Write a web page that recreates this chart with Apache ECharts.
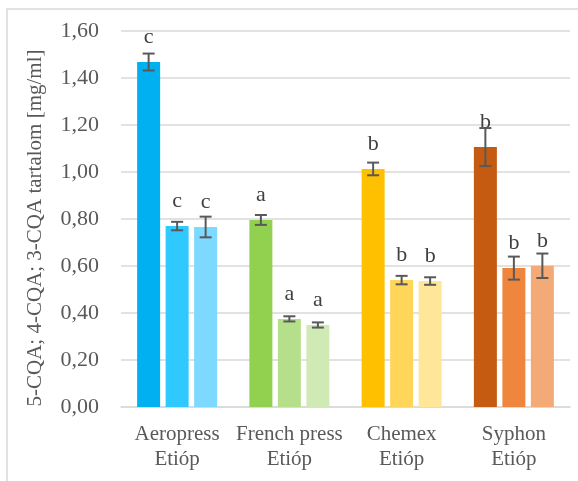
<!DOCTYPE html>
<html>
<head>
<meta charset="utf-8">
<script src="https://cdn.jsdelivr.net/npm/echarts@6/dist/echarts.min.js"></script>
<style>
  html, body { margin: 0; padding: 0; background: #fff; }
  #chart { width: 578px; height: 481px; }
</style>
</head>
<body>
<div id="chart"></div>
<script>
// data
var categories = ['Aeropress\nEtióp', 'French press\nEtióp', 'Chemex\nEtióp', 'Syphon\nEtióp'];
var seriesNames = ['5-CQA', '4-CQA', '3-CQA'];
var cqa5 = [1.468, 0.796, 1.013, 1.106];
var cqa4 = [0.770, 0.375, 0.540, 0.591];
var cqa3 = [0.766, 0.349, 0.536, 0.601];
var err5 = [0.036, 0.021, 0.027, 0.081];
var err4 = [0.018, 0.011, 0.018, 0.049];
var err3 = [0.044, 0.011, 0.016, 0.052];
var letters5 = ['c', 'a', 'b', 'b'];
var letters4 = ['c', 'a', 'b', 'b'];
var letters3 = ['c', 'a', 'b', 'b'];
// colours: one row per category, one column per series
var colors = [
  ['#00B0F0', '#2FC8FF', '#7DD9FF'],
  ['#92D050', '#B5DF8B', '#D0EAB6'],
  ['#FFC000', '#FFD659', '#FFE699'],
  ['#C55A11', '#F0853E', '#F4AA77']
];

var values = [cqa5, cqa4, cqa3];
var errors = [err5, err4, err3];
var letters = [letters5, letters4, letters3];

var font = '"Liberation Serif", "Times New Roman", serif';
var barWidth = 23;
var barGap = 5.5;

var chart = echarts.init(document.getElementById('chart'));

var series = [];
values.forEach(function (vals, s) {
  series.push({
    name: seriesNames[s],
    type: 'bar',
    barWidth: barWidth,
    barGap: (barGap / barWidth * 100) + '%',
    data: vals.map(function (v, i) {
      return {
        value: v,
        itemStyle: { color: colors[i][s] },
        label: { formatter: letters[s][i] }
      };
    }),
    label: {
      show: true,
      position: 'top',
      distance: 14,
      fontFamily: font,
      fontSize: 22,
      color: '#404040'
    },
    z: 2
  });
});

// error bars
values.forEach(function (vals, s) {
  series.push({
    type: 'custom',
    name: seriesNames[s] + ' err',
    data: vals.map(function (v, i) { return [i, v - errors[s][i], v + errors[s][i]]; }),
    renderItem: function (params, api) {
      var off = (s - 1) * (barWidth + barGap);
      var lo = api.coord([api.value(0), api.value(1)]);
      var hi = api.coord([api.value(0), api.value(2)]);
      var x = lo[0] + off;
      var hw = 6;
      var st = { stroke: '#595959', lineWidth: 2 };
      return {
        type: 'group',
        children: [
          { type: 'line', shape: { x1: x, y1: lo[1], x2: x, y2: hi[1] }, style: st },
          { type: 'line', shape: { x1: x - hw, y1: lo[1], x2: x + hw, y2: lo[1] }, style: st },
          { type: 'line', shape: { x1: x - hw, y1: hi[1], x2: x + hw, y2: hi[1] }, style: st }
        ]
      };
    },
    encode: { x: 0, y: [1, 2] },
    z: 3
  });
});

chart.setOption({
  animation: false,
  backgroundColor: '#fff',
  grid: { left: 121, right: 8, top: 31, bottom: 74 },
  xAxis: {
    type: 'category',
    data: categories,
    axisTick: { show: false },
    axisLine: { lineStyle: { color: '#d9d9d9', width: 1.5 } },
    axisLabel: {
      margin: 15,
      fontFamily: font,
      fontSize: 21,
      lineHeight: 25,
      color: '#595959',
      interval: 0
    }
  },
  yAxis: {
    type: 'value',
    min: 0,
    max: 1.6,
    interval: 0.2,
    axisLine: { show: false },
    axisTick: { show: false },
    splitLine: { lineStyle: { color: '#d9d9d9', width: 1.5 } },
    axisLabel: {
      margin: 22,
      fontFamily: font,
      fontSize: 22,
      color: '#595959',
      formatter: function (v) { return v.toFixed(2).replace('.', ','); }
    }
  },
  graphic: [
    {
      type: 'rect',
      shape: { x: 7, y: 9, width: 620, height: 520 },
      style: { fill: null, stroke: '#d9d9d9', lineWidth: 1.5 },
      silent: true
    },
    {
      type: 'text',
      x: 35,
      y: 228,
      rotation: Math.PI / 2,
      style: {
        text: '5-CQA; 4-CQA; 3-CQA tartalom [mg/ml]',
        fontFamily: font,
        fontSize: 21,
        fill: '#595959',
        align: 'center',
        verticalAlign: 'middle'
      }
    }
  ],
  series: series
});
</script>
</body>
</html>
